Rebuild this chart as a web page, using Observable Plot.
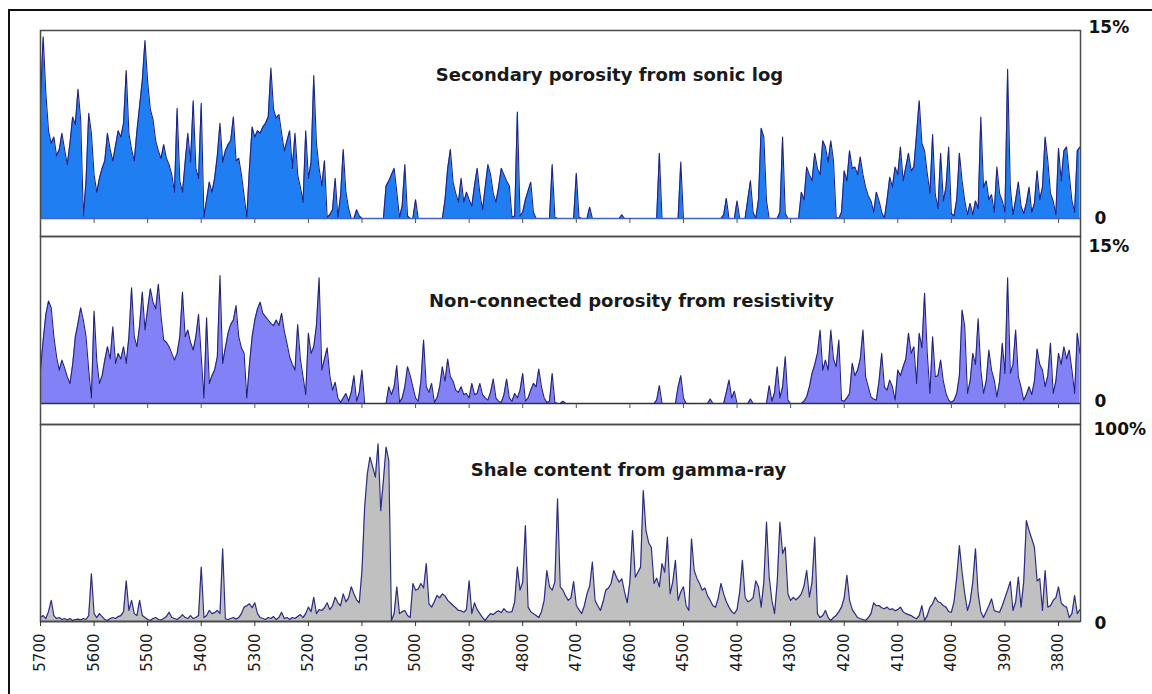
<!DOCTYPE html>
<html><head><meta charset="utf-8">
<script src="https://cdn.jsdelivr.net/npm/d3@7"></script>
<script src="https://cdn.jsdelivr.net/npm/@observablehq/plot@0.6"></script>
<style>
html,body{margin:0;padding:0;background:#fff;overflow:hidden;}
#wrap{position:relative;width:1152px;height:694px;overflow:hidden;background:#fff;}
#border{position:absolute;left:8px;top:9px;width:1150px;height:700px;border:2px solid #111;box-sizing:border-box;}
.panel{position:absolute;left:0;}
</style></head><body><div id="wrap"><div id="border"></div></div>
<script>
// depth samples: 5700 down to 3760, every 5
const depths = d3.range(5700, 3755, -5);
const xTicks = d3.range(5700, 3799, -100);

const sonic = [
9.5,14.5,10,7,6,6.5,5,5.5,6.8,5.5,
4.3,6,8.1,7.5,10.3,7.9,0.2,3,8.4,6.8,
3.5,2.1,3.2,4,4.6,6.8,5.5,4.6,5.8,7,
6.5,7.6,11.8,6.8,5.5,4.6,7,9,11,14.2,
10.9,8.7,7.9,6.2,5.4,4.8,5.9,4.8,4.3,3.5,
2.1,8.8,3,2.1,4.5,6.8,4.5,9.4,4,3.2,
9.2,0.1,1.5,2.9,2.1,3.2,5,7.6,4.5,5.4,
5.9,6.2,8.1,4.6,4.8,3.5,1.8,0.1,4,7.3,
6.5,7,6.8,7.3,7.6,8.1,12,8.7,8,8.3,
6.8,5.4,6.2,7,4,6.8,3.5,2.5,1.3,7,
3.2,4.5,11.4,6,4,2.6,4.6,0.1,0.3,0.7,
3.2,0.1,1.8,5.5,2.1,0.8,0,0,0.7,0.2,
0,0,0,0,0,0,0,0,0,2.6,
3,3.5,4,2.1,0.1,1,4.3,0.2,0,0,
1.5,0,0,0,0,0,0,0,0,0,
0,1.5,4,5.5,2.9,2,1.3,3.2,1.3,2.1,
1.5,1,2.6,4,2,0.7,2.5,4.3,3.5,2,
1.3,2.5,4,3.5,3,2.6,0.1,0.2,8.5,0.2,
0.5,1.5,2.2,2.9,0.5,0,0,0,0,0,
0,4.3,0.1,0,0,0,0,0,0,0,
3.6,0.1,0,0,0,0.9,0,0,0,0,
0,0,0,0,0,0,0,0.3,0,0,
0,0,0,0,0,0,0,0,0,0,
0,5.2,0,0,0,0,0,0,0,4.5,
0,0,0,0,0,0,0,0,0,0,
0,0,0,0,0,0.3,1.6,0,0,0,
1.4,0,0,0,1.5,3,0.5,0,1.5,7.2,
6.5,1.4,0,0,0,0,0.5,6.5,0.4,0,
0,0,0,0,2.1,1.5,4.1,3.5,3,5.2,
4,3.5,6.2,5.7,4.5,6.2,4.6,0.1,0,0.5,
3.8,3,5.4,4,4.1,3.5,4.9,3.5,2.5,1.8,
1.4,0.5,2.1,1.4,0.5,0,1.5,3.3,2.5,4.1,
3.5,5.7,3,4.1,5.2,3.8,4.1,6.7,9.4,6,
5.4,3.6,2,6.7,1.9,0.8,5.2,1.4,2.5,5.7,
0.4,0.2,1.5,5.2,3,1.4,0.3,1.2,0.3,1.4,
0.8,8.1,2.5,3,1.5,1.9,0.5,4.1,2,1.4,
0.5,11.9,2.5,0.3,1.5,2.9,1,0.4,1.2,2.5,
0.5,1.2,3.8,1.5,2.5,6.5,4.6,2,1.4,0.3,
5.6,3,5.4,5.7,3.5,1.4,0.5,5.4,5.7
];

const resistivity = [
3,5.7,8,9.2,8.6,6,4.2,3,3.9,3.2,
2.4,1.8,3.5,6,7.2,8.6,7.5,6,3,0.5,
8.3,3.9,1.8,2.5,3.9,5.1,4,6.9,3.6,4.5,
4,5.1,3.6,6,10.4,6,5.1,7,10,6.6,
8.5,10.3,9.1,8.5,10.7,7.8,5.7,5.5,5.1,4.5,
3.9,4.5,6,10,6,6.6,5.5,4.8,6,8,
4.2,0.5,7.7,1.8,2.5,3,4.2,11.5,3.6,5,
6.3,7.1,7.5,8.8,6,5,4.5,0.5,3.5,6,
7.5,8.5,9.1,8.1,7.8,7.5,7.2,7,7.5,7,
8.1,6.5,5.4,4.2,3.5,3,7.1,4,2.4,0.8,
6.3,4.5,5.1,7,11.3,3,4,5,2.5,1.2,
1.9,0.5,0.1,0.5,0.9,0.2,1,2.5,0.2,1,
3,0,0,0,0,0,0,0,0,0,
1.5,0.8,1.5,3.4,0.1,0.5,1.5,3.3,2.5,1.5,
0.5,0.2,2,5.7,1.5,1,1.8,0.1,0.5,1.5,
3.3,2,4,2.4,2,1.2,1,1.5,0.8,0.9,
0.5,1.8,0.8,0.9,1.8,0.8,0.5,0.3,1,2.2,
0.5,0.2,0.1,0.8,2.2,0.5,0.2,0.9,0.5,1.2,
2.7,0.2,0.5,1.2,1.8,1.5,3.1,1.5,0.5,0.1,
0.2,2.7,0.1,0,0,0.2,0,0,0,0,
0,0,0,0,0,0,0,0,0,0,
0,0,0,0,0,0,0,0,0,0,
0,0,0,0,0,0,0,0,0,0,
0.3,1.6,0,0,0,0,0,0,1.5,2.5,
0.5,0,0,0,0,0,0,0,0,0,
0.4,0,0,0,0,0,1,2.1,0.5,1.1,
0,0,0,0,0,0.4,0,0,0,0,
0,0,1.6,0.2,1,3.3,0.5,1.5,4.2,0.3,
0,0,0,0,0,0.2,0.6,1.5,2.7,3.5,
4.5,6.6,3,3.9,3,6.6,4,3.3,5.7,0.3,
0.2,0.5,0.9,3.6,2.5,3,4,6.6,2.4,1.5,
0.6,0.4,0.3,2,4.5,1.5,1.2,2.1,1.5,0.3,
3,2.5,3.3,4,6.3,4.5,5.1,1.8,6.3,5,
9.9,4.5,0.9,6,2.4,2.5,3.9,2,0.9,0.3,
0.1,0.3,0.9,2.5,8.4,6.9,0.9,2,4.5,3.5,
7.6,3,0.9,2,4.8,3,2.1,0.6,2,5.4,
2.7,11.3,2.7,3.5,6.6,2.4,1.5,0.3,0.8,1.5,
0.8,2,4.9,3.5,3,1.5,2.5,5.4,0.9,2,
4.5,3.5,5.1,4,4.8,3,0.9,6.3,4.5
];

const shale = [
2,3,1.5,5,10.7,3,1.5,2,1,1.5,
0.8,1.5,0.5,1,1.2,0.8,1.5,1,3,24.2,
4,2,4,2.5,1,0.5,1.5,2,1.5,2.5,
3,5,20.6,5.6,10.7,4,3,10.7,3,2,
1,0.5,1.5,2,1,0.8,1.5,2.5,4.7,2,
1.5,1,2,3.5,2,1.5,3,1.5,2,3,
27.6,2,3,5.6,4,4.5,5.6,4,36.9,1.4,
1,1.5,2,1.2,2,4,7.3,8,9,7,
9.5,4,2,1.5,1,2,1.5,2.5,1,2,
4.7,1.5,2,1,2,1.5,2.5,3.5,2,4,
7.3,5,12.3,4,6,5.6,7,9.5,6,8,
12.3,9.5,8,14,10,12,17.6,14,11,9.5,
25.9,58,75,83.4,78.4,73.3,90.2,56.3,71.7,88.5,
81.7,0.5,4,17.6,4,5,5.6,3,2,19.3,
15.9,16.5,19.3,17,29.4,9,7.3,10,13.2,12,
14,13,10.7,9.5,8.1,7,5.6,5.5,4.7,6,
20.6,4,9.5,6,4,2,0.5,2.5,4,3.5,
4.7,5.5,4.5,6.5,5,4.7,5,10,27.6,15.9,
20,48.7,7.3,5,4,3,2,5,10.7,25.9,
17.6,15.9,20,62.3,17.6,15.9,13,10.7,12,20.3,
8.1,6,4,8,14,18,30.1,10.7,8,5.6,
10,15.9,17,19.3,25.9,22.5,20,21.7,15,9.5,
20,46.2,22.5,25,27.6,66.5,46.2,40,37.7,19.3,
22,17.6,29.4,25,42.8,14,20,31,10.7,15,
17.6,8,5.6,42,25.9,22,19.3,15.9,17,13,
10.7,8,7.3,12,19.3,14,10,7.3,5,4,
6,15,31,12.3,10,10.7,12,20.6,17.6,7.3,
20,50.4,22.5,10.7,4,20,50.4,34.5,37.7,14,
10.7,12.3,11,12.3,14,18,25.9,12.3,20,42.8,
4,2,3,5.6,2,0.5,2,3,5,7.3,
12,23.4,10.7,6,4,2,1.4,1,0.5,2,
4,9.5,8,8.1,7,6.5,7.3,6,6.5,5.5,
6,7.3,5,4,3.5,3,2,1.4,3,8.1,
0.5,3,7.3,9,12.3,10,9.5,8,7.3,5,
4.7,10,22.5,38.5,25,14,5.6,10,20,36.9,
14,5,2,5,8,11.5,5.6,5,4.7,8,
12,15.9,20.3,5.6,10,22.5,7.3,20,51.2,46.2,
42,37.7,20.6,21.7,5.6,25.9,7.3,8,10.7,12,
17.6,9.5,8,7.3,2,4,13.2,4,6
];

const titles = ["Secondary porosity from sonic log", "Non-connected porosity from resistivity", "Shale content from gamma-ray"];
const topLabels = ["15%", "15%", "100%"];
const topValues = [15, 15, 100];
const zeroLabel = "0";

const xDomain = [5700, 3759];

function makePanel(cfg) {
  const rows = depths.map((d, i) => ({d, v: cfg.values[i]}));
  const marks = [
    Plot.areaY(rows, {x: "d", y: "v", fill: cfg.fill}),
    Plot.lineY(rows, {x: "d", y: "v", stroke: cfg.stroke, strokeWidth: cfg.lw}),
    Plot.ruleY([0], {stroke: cfg.base, strokeWidth: 1.3}),
    Plot.frame({stroke: "#4a4a4a", strokeWidth: 1.5}),
    Plot.text([cfg.title], {frameAnchor: "top", dx: cfg.tdx, dy: cfg.tdy, fontSize: 18, fontWeight: "bold", fontFamily: "DejaVu Sans", fill: "#1a1a1a"}),
    Plot.text([{v: cfg.topValue, t: cfg.topLabel}], {y: "v", text: "t", frameAnchor: "right", textAnchor: "start", dx: cfg.ldx[0], dy: cfg.ldy[0], fontSize: 17, fontWeight: "bold", fontFamily: "DejaVu Sans", fill: "#111"}),
    Plot.text([{v: 0, t: zeroLabel}], {y: "v", text: "t", frameAnchor: "right", textAnchor: "start", dx: cfg.ldx[1], dy: cfg.ldy[1], fontSize: 17, fontWeight: "bold", fontFamily: "DejaVu Sans", fill: "#111"})
  ];
  if (cfg.axis) {
    marks.push(Plot.axisX(xTicks, {label: null, tickRotate: -90, tickSize: 5, tickPadding: 7, tickFormat: d => String(d), fontSize: 15, fontFamily: "DejaVu Sans", stroke: "#333", fill: "#1a1a1a"}));
  } else {
    marks.push(Plot.ruleX(xTicks, {x: d => d, y1: 0, y2: cfg.tickDown, stroke: "#555"}));
  }
  const svg = Plot.plot({
    width: 1152,
    height: cfg.height,
    marginLeft: 40,
    marginRight: 72,
    marginTop: cfg.mt,
    marginBottom: cfg.mb,
    x: {domain: xDomain, label: null, axis: cfg.axis ? undefined : null},
    y: {domain: cfg.yDomain, axis: null, label: null},
    style: {background: "transparent", overflow: "visible", fontFamily: "DejaVu Sans"},
    marks
  });
  svg.classList.add("panel");
  svg.style.top = cfg.top + "px";
  svg.style.position = "absolute";
  document.getElementById("wrap").appendChild(svg);
}

makePanel({values: sonic, fill: "#1f7ef2", stroke: "#222283", lw: 1.1, base: "#3f63c8",
  title: titles[0], topLabel: topLabels[0], topValue: topValues[0],
  top: 0, height: 237, mt: 30, mb: 1, yDomain: [-1.436, 15],
  tdx: 49, tdy: 38, ldx: [8, 14], ldy: [-2.5, 0], tickDown: -0.4, axis: false});

makePanel({values: resistivity, fill: "#8282f6", stroke: "#23237e", lw: 1.1, base: "#333",
  title: titles[1], topLabel: topLabels[1], topValue: topValues[1],
  top: 226, height: 199, mt: 10, mb: 1, yDomain: [-1.886, 15],
  tdx: 71, tdy: 58, ldx: [8, 14], ldy: [10.5, -1.5], tickDown: -0.45, axis: false});

makePanel({values: shale, fill: "#c0c0c0", stroke: "#2c2c88", lw: 1.2, base: "#222",
  title: titles[2], topLabel: topLabels[2], topValue: topValues[2],
  top: 414, height: 267, mt: 10, mb: 60, yDomain: [0, 100],
  tdx: 68, tdy: 39, ldx: [13, 14], ldy: [5, 2], tickDown: 0, axis: true});
</script>
</body></html>
